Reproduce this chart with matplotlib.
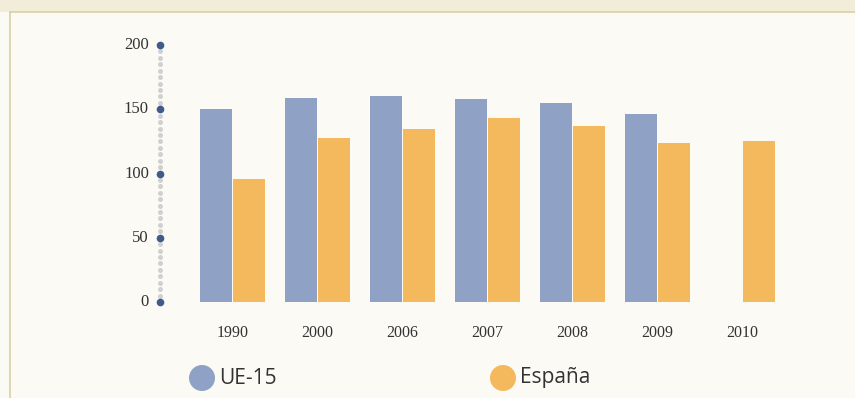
import matplotlib
matplotlib.use("Agg")
import matplotlib.pyplot as plt
from matplotlib.patches import Rectangle, Ellipse
import numpy as np

years = ["1990", "2000", "2006", "2007", "2008", "2009", "2010"]
ue15 = [150, 159, 160, 158, 155, 146, None]
espana = [96, 128, 135, 143, 137, 124, 125]
yticks = [0, 50, 100, 150, 200]
series_names = ["UE-15", "España"]

C_UE = "#8fa2c6"
C_ES = "#f3b95c"
C_TICK = "#3e5b8c"
C_TXT = "#333333"

W, H = 855, 398
fig = plt.figure(figsize=(W / 100, H / 100), dpi=100)
fig.patch.set_facecolor("#fbfaf5")

# frame
fig.patches.append(Rectangle((0, 1 - 12 / H), 1, 12 / H, transform=fig.transFigure,
                             facecolor="#f1edd8", edgecolor="none", zorder=0))
fig.lines.append(plt.Line2D([10 / W, 1], [1 - 12 / H, 1 - 12 / H], transform=fig.transFigure,
                            color="#d8d1a6", lw=1.2))
fig.lines.append(plt.Line2D([10 / W, 10 / W], [0, 1 - 12 / H], transform=fig.transFigure,
                            color="#d8d1a6", lw=1.2))

x0_px, x1_px = 160, 800
y0_px, y1_px = 302, 45
ax = fig.add_axes([x0_px / W, 1 - y0_px / H, (x1_px - x0_px) / W, (y0_px - y1_px) / H])
ax.set_facecolor("none")
gap = 85.0
ax.set_xlim((x0_px - 232.5) / gap, (x1_px - 232.5) / gap)
ax.set_ylim(0, 200)
for s in ax.spines.values():
    s.set_visible(False)
ax.set_xticks([])
ax.set_yticks([])

x = np.arange(len(years))
bw = 32 / gap
off = 16.5 / gap
for i in range(len(years)):
    if ue15[i] is not None:
        ax.bar(x[i] - off, ue15[i], width=bw, color=C_UE, zorder=2)
    ax.bar(x[i] + off, espana[i], width=bw, color=C_ES, zorder=2)

# dotted axis
xa = ax.get_xlim()[0]
dots = np.arange(0, 201, 5)
ax.plot([xa] * len(dots), dots, ls="none", marker="o", ms=3.6, color="#d0d0d0",
        mec="none", clip_on=False, zorder=3)
ax.plot([xa] * len(yticks), yticks, ls="none", marker="o", ms=5.5, color=C_TICK,
        mec="none", clip_on=False, zorder=4)
for t in yticks:
    ax.annotate(str(t), (xa, t), xytext=(-8, 0), textcoords="offset points",
                ha="right", va="center", fontsize=12, color=C_TXT,
                family="Liberation Serif", annotation_clip=False)

for i, y in enumerate(years):
    ax.annotate(y, (x[i], 0), xytext=(0, -22), textcoords="offset points",
                ha="center", va="center", fontsize=11.5, color=C_TXT,
                family="Liberation Serif", annotation_clip=False)

# legend
for cx, col, name in [(202, C_UE, series_names[0]), (503, C_ES, series_names[1])]:
    fig.patches.append(Ellipse((cx / W, 1 - 378 / H), 26 / W, 26 / H,
                               transform=fig.transFigure, facecolor=col, edgecolor="none"))
    fig.text((cx + 17) / W, 1 - 378 / H, name, ha="left", va="center",
             fontsize=15, color=C_TXT, family="Open Sans")

fig.savefig("out.png", dpi=100, facecolor=fig.get_facecolor())
